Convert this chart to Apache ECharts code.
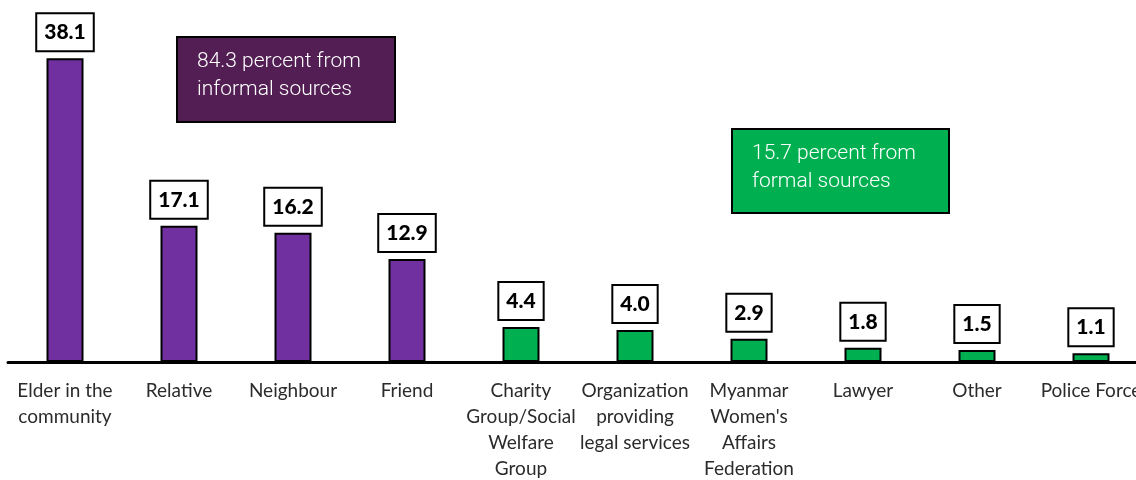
<!DOCTYPE html>
<html>
<head>
<meta charset="utf-8">
<script src="https://cdn.jsdelivr.net/npm/echarts@6/dist/echarts.min.js"></script>
<style>
  html, body { margin: 0; padding: 0; background: #fff; }
  #chart { width: 1136px; height: 480px; }
</style>
</head>
<body>
<div id="chart"></div>
<script>
const categories = [
  'Elder in the\ncommunity', 'Relative', 'Neighbour', 'Friend',
  'Charity\nGroup/Social\nWelfare\nGroup', 'Organization\nproviding\nlegal services',
  'Myanmar\nWomen\'s\nAffairs\nFederation', 'Lawyer', 'Other', 'Police Force'
]
const values = [38.1, 17.1, 16.2, 12.9, 4.4, 4.0, 2.9, 1.8, 1.5, 1.1]
const sourceType = ['informal', 'informal', 'informal', 'informal', 'formal', 'formal', 'formal', 'formal', 'formal', 'formal']
const colors = { informal: '#7030a0', formal: '#00b050' }

const chart = echarts.init(document.getElementById('chart'))
const font = 'Lato, "Open Sans", sans-serif'
const noteFont = '300 21px Roboto, "Liberation Sans", sans-serif'

chart.setOption({
  animation: false,
  grid: { left: 8, right: -12, top: 43, bottom: 118, containLabel: false, outerBoundsMode: 'none' },
  xAxis: {
    type: 'category',
    data: categories,
    axisLine: { lineStyle: { color: '#000', width: 3 } },
    axisTick: { show: false },
    axisLabel: { interval: 0, color: '#2b2b2b', fontSize: 19, fontFamily: font, lineHeight: 26, margin: 16 }
  },
  yAxis: { type: 'value', min: 0, max: 40, show: false, splitLine: { show: false } },
  series: [{
    type: 'bar',
    barWidth: 37,
    data: values.map((v, i) => ({
      value: v,
      itemStyle: { color: colors[sourceType[i]] }
    })),
    itemStyle: { borderColor: '#000', borderWidth: 2 },
    label: {
      show: true,
      position: 'top',
      distance: 8,
      formatter: p => p.value.toFixed(1),
      fontFamily: font,
      fontWeight: 900,
      fontSize: 21,
      color: '#000',
      backgroundColor: '#fff',
      borderColor: '#000',
      borderWidth: 2,
      padding: [8, 7, 7, 7]
    }
  }],
  graphic: [
    {
      type: 'rect', left: 176, top: 36,
      shape: { width: 218, height: 85 },
      style: { fill: '#521e54', stroke: '#000', lineWidth: 2 }
    },
    {
      type: 'text', left: 197, top: 48,
      style: { text: '84.3 percent from\ninformal sources', fill: '#fff', font: noteFont, lineHeight: 28 }
    },
    {
      type: 'rect', left: 731, top: 128,
      shape: { width: 217, height: 84 },
      style: { fill: '#00b050', stroke: '#000', lineWidth: 2 }
    },
    {
      type: 'text', left: 752, top: 140,
      style: { text: '15.7 percent from\nformal sources', fill: '#fff', font: noteFont, lineHeight: 28 }
    }
  ]
})
</script>
</body>
</html>
